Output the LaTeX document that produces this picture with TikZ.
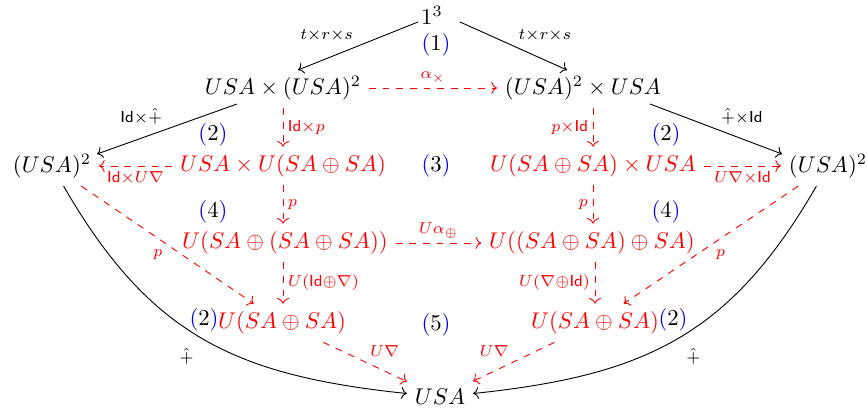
\documentclass[tikz,border=0pt]{standalone}
\usetikzlibrary{arrows.meta}
\newcommand\bnum[1]{$\textcolor{blue}{(}#1\textcolor{blue}{)}$}
\begin{document}
\begin{tikzpicture}[x=0.4405pt,y=-0.4405pt,
  obj/.style={inner sep=3.33pt},
  robj/.style={inner sep=3.33pt,text=red},
  sarr/.style={->,black},
  darr/.style={->,dashed,red},
  lbl/.style={inner sep=2pt},
  rlbl/.style={inner sep=2pt,text=red}]
\useasboundingbox (0,0) rectangle (867,412);
% objects
\node[obj] (n1) at (432,15) {$1^3$};
\node[obj] (a) at (283,88) {$USA\times(USA)^2$};
\node[obj] (b) at (583,88) {$(USA)^2\times USA$};
\node[obj] (l) at (52,166) {$(USA)^2$};
\node[robj] (c) at (283,166) {$USA\times U(SA\oplus SA)$};
\node[robj] (d) at (593,166) {$U(SA\oplus SA)\times USA$};
\node[obj] (r) at (828,166) {$(USA)^2$};
\node[robj] (e) at (285,243) {$U(SA\oplus(SA\oplus SA))$};
\node[robj] (f) at (592,243) {$U((SA\oplus SA)\oplus SA)$};
\node[robj] (g) at (282,323) {$U(SA\oplus SA)$};
\node[robj] (h) at (595,323) {$U(SA\oplus SA)$};
\node[obj] (u) at (440,397) {$USA$};
% region numbers
\node (k1) at (436,45) {\bnum{1}};
\node (k2a) at (213,135) {\bnum{2}};
\node (k2b) at (666,135) {\bnum{2}};
\node (k3) at (436,166) {\bnum{3}};
\node (k4a) at (213,212) {\bnum{4}};
\node (k4b) at (666,212) {\bnum{4}};
\node (k2c) at (204,320) {\bnum{2}};
\node (k2d) at (673,320) {\bnum{2}};
\node (k5) at (436,325) {\bnum{5}};
% solid arrows
\draw[sarr] ([shift={(-14,7)}]n1.center) -- node[lbl,above left]{$\scriptstyle t\times r\times s$} ([shift={(15,-18)}]a.center);
\draw[sarr] ([shift={(28,7)}]n1.center) -- node[lbl,above right]{$\scriptstyle t\times r\times s$} ([shift={(-16,-18)}]b.center);
\draw[sarr] ([shift={(-46,16)}]a.center) -- node[lbl,above left]{$\scriptstyle\mathsf{Id}\times\hat{+}$} ([shift={(45,-12)}]l.center);
\draw[sarr] ([shift={(67,16)}]b.center) -- node[lbl,above right]{$\scriptstyle\hat{+}\times\mathsf{Id}$} ([shift={(-46,-12)}]r.center);
\draw[sarr] (l) to[out=-60,in=174,looseness=1.1] node[lbl,pos=0.5,below left=2pt]{$\scriptstyle\hat{+}$} (u);
\draw[sarr] (r) to[out=-120,in=6,looseness=1.1] node[lbl,pos=0.5,below right=2pt]{$\scriptstyle\hat{+}$} (u);
% dashed arrows
\draw[darr] (a.east) -- node[rlbl,above]{$\scriptstyle\alpha_\times$} (b.west);
\draw[darr] (a.south) -- node[rlbl,right]{$\scriptstyle\mathsf{Id}\times p$} (a.south |- c.north);
\draw[darr] (b.south -| d.north) -- node[rlbl,left]{$\scriptstyle p\times\mathsf{Id}$} (d.north);
\draw[darr] (c.west) -- node[rlbl,below]{$\scriptstyle\mathsf{Id}\times U\nabla$} (l.east);
\draw[darr] (d.east) -- node[rlbl,below]{$\scriptstyle U\nabla\times\mathsf{Id}$} (r.west);
\draw[darr] (c.south) -- node[rlbl,right]{$\scriptstyle p$} (c.south |- e.north);
\draw[darr] (d.south) -- node[rlbl,left]{$\scriptstyle p$} (d.south |- f.north);
\draw[darr] (e.east) -- node[rlbl,above]{$\scriptstyle U\alpha_\oplus$} (f.west);
\draw[darr] (c.south |- e.south) -- node[rlbl,right]{$\scriptstyle U(\mathsf{Id}\oplus\nabla)$} (c.south |- g.north);
\draw[darr] (h.north |- f.south) -- node[rlbl,left]{$\scriptstyle U(\nabla\oplus\mathsf{Id})$} (h.north);
\draw[darr] (l) -- node[rlbl,below left]{$\scriptstyle p$} (g);
\draw[darr] (r) -- node[rlbl,below right]{$\scriptstyle p$} (h);
\draw[darr] (g) -- node[rlbl,above right]{$\scriptstyle U\nabla$} (u);
\draw[darr] (h) -- node[rlbl,above left]{$\scriptstyle U\nabla$} (u);
\end{tikzpicture}
\end{document}
